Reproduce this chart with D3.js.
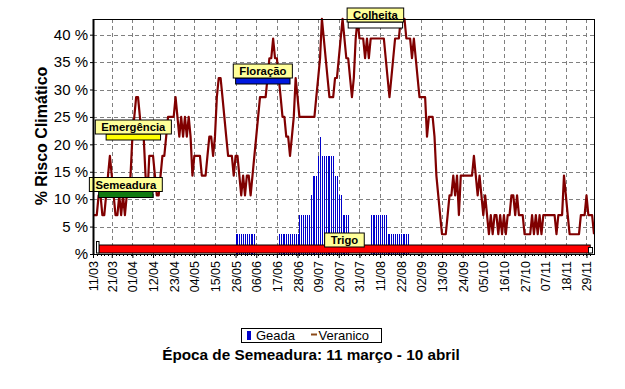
<!DOCTYPE html>
<html>
<head>
<meta charset="utf-8">
<script src="https://cdn.jsdelivr.net/npm/d3@7"></script>
<style>
  body { margin: 0; background: #fff; }
  svg { display: block; font-family: "Liberation Sans", Arial, sans-serif; }
</style>
</head>
<body>
<svg id="chart" width="625" height="389"></svg>
<script>
// datas dos rotulos do eixo x (dia/mes)
var rotulosX = ["11/03","21/03","01/04","12/04","23/04","04/05","15/05","26/05","06/06","17/06","28/06","09/07",
  "20/07","31/07","11/08","22/08","02/09","13/09","24/09","05/10","16/10","27/10","07/11","18/11","29/11"];
var rotulosY = [0, 5, 10, 15, 20, 25, 30, 35, 40];
var inicioSerie = "11/03";
var fimEixo = "03/12";
var yMax = 42.86;

// % risco de veranico, um valor por dia a partir de 11/03
var veranico = [
  7.1,7.1,7.1,10.7,10.7,7.1,7.1,10.7,14.3,17.9,14.3,
  10.7,7.1,7.1,10.7,7.1,10.7,7.1,10.7,10.7,14.3,21.4,
  25,28.6,28.6,25,21.4,21.4,14.3,10.7,17.9,17.9,17.9,
  14.3,10.7,10.7,14.3,17.9,17.9,21.4,25,25,25,25,
  28.6,25,21.4,25,21.4,25,21.4,25,21.4,14.3,17.9,
  17.9,17.9,17.9,14.3,14.3,14.3,17.9,21.4,21.4,17.9,21.4,
  28.6,32.1,32.1,28.6,25,21.4,17.9,17.9,17.9,14.3,17.9,
  17.9,14.3,10.7,14.3,10.7,14.3,14.3,10.7,14.3,17.9,21.4,
  25,28.6,28.6,28.6,28.6,32.1,35.7,35.7,39.3,35.7,35.7,
  32.1,28.6,25,25,21.4,21.4,17.9,21.4,25,32.1,28.6,
  25,25,25,25,25,25,25,25,25,28.6,32.1,
  35.7,42.9,39.3,35.7,32.1,28.6,28.6,28.6,32.1,32.1,35.7,
  39.3,42.9,39.3,35.7,35.7,32.1,28.6,32.1,39.3,42.9,39.3,
  39.3,39.3,35.7,39.3,35.7,39.3,39.3,39.3,39.3,39.3,39.3,
  39.3,39.3,35.7,32.1,28.6,32.1,35.7,39.3,39.3,39.3,42.9,
  42.9,42.9,39.3,39.3,39.3,35.7,39.3,35.7,32.1,28.6,28.6,
  28.6,28.6,21.4,25,25,25,21.4,14.3,10.7,7.1,3.6,
  3.6,3.6,7.1,10.7,10.7,14.3,10.7,14.3,7.1,14.3,14.3,
  14.3,14.3,14.3,14.3,14.3,17.9,14.3,10.7,14.3,10.7,7.1,
  10.7,7.1,3.6,7.1,3.6,7.1,7.1,3.6,7.1,3.6,7.1,
  3.6,7.1,7.1,10.7,10.7,7.1,10.7,7.1,7.1,7.1,3.6,
  3.6,3.6,3.6,7.1,3.6,7.1,3.6,7.1,3.6,7.1,7.1,
  7.1,7.1,7.1,7.1,7.1,3.6,7.1,7.1,7.1,14.3,10.7,
  7.1,3.6,3.6,3.6,3.6,3.6,3.6,7.1,7.1,7.1,10.7,
  7.1,7.1,7.1,3.6
];

// % risco de geada, um valor por dia a partir de 11/03
var geada = [
  0,0,0,0,0,0,0,0,0,0,0, 0,0,0,0,0,0,0,0,0,0,0,
  0,0,0,0,0,0,0,0,0,0,0, 0,0,0,0,0,0,0,0,0,0,0,
  0,0,0,0,0,0,0,0,0,0,0, 0,0,0,0,0,0,0,0,0,0,0,
  0,0,0,0,0,0,0,0,0,0,3.6,
  3.6,3.6,3.6,3.6,3.6,3.6,3.6,3.6,3.6,3.6,0,
  0,0,0,0,0,0,0,0,0,0,0,
  3.6,3.6,3.6,3.6,3.6,3.6,3.6,3.6,3.6,3.6,3.6,
  7.1,7.1,7.1,7.1,7.1,7.1,10.7,14.3,14.3,14.3,17.9,
  21.4,17.9,17.9,17.9,17.9,17.9,17.9,17.9,14.3,14.3,10.7,
  10.7,7.1,7.1,7.1,7.1,0,0,0,0,0,0,
  0,0,0,0,0,7.1,7.1,7.1,7.1,7.1,7.1,
  7.1,7.1,7.1,3.6,3.6,3.6,3.6,3.6,3.6,3.6,3.6,
  3.6,3.6,3.6,3.6,0,0,0,0,0,0,0,
  0,0,0,0,0,0,0,0,0,0,0, 0,0,0,0,0,0,0,0,0,0,0,
  0,0,0,0,0,0,0,0,0,0,0, 0,0,0,0,0,0,0,0,0,0,0,
  0,0,0,0,0,0,0,0,0,0,0, 0,0,0,0,0,0,0,0,0,0,0,
  0,0,0,0,0,0,0,0,0,0
];

// fases da cultura
var fases = ["Semeadura", "Emergência", "Floração", "Colheita", "Trigo"];
var faseInicio = ["14/03", "18/03", "26/05", "25/07", "14/03"];
var faseFim = ["12/04", "16/04", "24/06", "23/08", "01/12"];

// aparencia das faixas (topo e base em pixels, cor)
var faixaEstilo = {
  "Semeadura": { y0: 191.5, y1: 197.5, cor: "#107a10" },
  "Emergência": { y0: 134, y1: 140, cor: "#ffff00" },
  "Floração": { y0: 78, y1: 84, cor: "#0018e0" },
  "Colheita": { y0: 22, y1: 28, cor: "#ffffff" },
  "Trigo": { y0: 245, y1: 253, cor: "#ff0000", rotuloY: 247 }
};

var parseDia = d3.utcParse("%d/%m/%Y");
function dataDe(s) { return parseDia(s + "/2001"); }
var dia0 = dataDe(inicioSerie);

var margem = { left: 93, right: 594, top: 19, bottom: 254 };
var x = d3.scaleUtc().domain([dia0, dataDe(fimEixo)]).range([margem.left, margem.right]);
var y = d3.scaleLinear().domain([0, yMax]).range([margem.bottom, margem.top]);
function xDia(i) { return x(d3.utcDay.offset(dia0, i)); }

var svg = d3.select("#chart");
svg.append("rect").attr("width", 625).attr("height", 389).attr("fill", "#fff");

// grade tracejada
var grade = svg.append("g").attr("stroke", "#808080").attr("stroke-dasharray", "4,3")
  .attr("shape-rendering", "crispEdges");
grade.selectAll("line.h").data(rotulosY.filter(function(v) { return v > 0; })).enter().append("line")
  .attr("x1", margem.left).attr("x2", margem.right)
  .attr("y1", function(d) { return Math.round(y(d)) + 0.5; })
  .attr("y2", function(d) { return Math.round(y(d)) + 0.5; });
grade.selectAll("line.v").data(rotulosX.slice(1)).enter().append("line")
  .attr("x1", function(d) { return Math.round(x(dataDe(d))) + 0.5; })
  .attr("x2", function(d) { return Math.round(x(dataDe(d))) + 0.5; })
  .attr("y1", margem.top).attr("y2", margem.bottom);

// barras de geada
svg.append("g").attr("fill", "#0000cc").attr("shape-rendering", "crispEdges")
  .selectAll("rect").data(geada.map(function(v, i) { return { v: v, i: i }; }).filter(function(d) { return d.v > 0; }))
  .enter().append("rect")
  .attr("x", function(d) { return Math.round(xDia(d.i)); })
  .attr("width", 1)
  .attr("y", function(d) { return Math.round(y(d.v)); })
  .attr("height", function(d) { return Math.round(y(0)) - Math.round(y(d.v)); });

// linha de veranico
var linha = d3.line()
  .x(function(d, i) { return xDia(i); })
  .y(function(d) { return y(d); });
svg.append("path").datum(veranico)
  .attr("d", linha)
  .attr("fill", "none")
  .attr("stroke", "#800000")
  .attr("stroke-width", 2.2)
  .attr("stroke-linejoin", "round");

// faixas das fases
var gf = svg.append("g");
fases.forEach(function(nome, k) {
  var est = faixaEstilo[nome];
  var xa = x(dataDe(faseInicio[k])), xb = x(dataDe(faseFim[k]));
  gf.append("rect")
    .attr("x", xa).attr("y", est.y0)
    .attr("width", xb - xa).attr("height", est.y1 - est.y0)
    .attr("fill", est.cor).attr("stroke", "#000").attr("stroke-width", 1);
  var cx = (xa + xb) / 2;
  var base = est.rotuloY || est.y0;
  var t = gf.append("text")
    .attr("x", cx).attr("y", base - 3)
    .attr("text-anchor", "middle")
    .attr("font-size", "11.3px").attr("font-weight", "bold")
    .text(nome);
  var w = t.node().getComputedTextLength() + 12;
  gf.insert("rect", function() { return t.node(); })
    .attr("x", cx - w / 2).attr("y", base - 14)
    .attr("width", w).attr("height", 14)
    .attr("fill", "#ffff99").attr("stroke", "#000").attr("stroke-width", 1);
});
// marcas brancas nas pontas da faixa do trigo
gf.append("rect").attr("x", 96.5).attr("y", 241.5).attr("width", 2.5).attr("height", 11.5)
  .attr("fill", "#fff").attr("stroke", "#000");
gf.append("rect").attr("x", 588.5).attr("y", 247.5).attr("width", 4).attr("height", 5.5)
  .attr("fill", "#fff").attr("stroke", "#000");

// eixos e moldura
svg.append("rect")
  .attr("x", margem.left + 0.5).attr("y", margem.top + 0.5)
  .attr("width", margem.right - margem.left).attr("height", margem.bottom - margem.top)
  .attr("fill", "none").attr("stroke", "#000").attr("shape-rendering", "crispEdges");
svg.append("line").attr("x1", margem.left + 0.5).attr("x2", margem.left + 0.5)
  .attr("y1", margem.top).attr("y2", margem.bottom + 1)
  .attr("stroke", "#000").attr("stroke-width", 2);

var eixoY = d3.axisLeft(y).tickValues(rotulosY).tickSize(3).tickPadding(2)
  .tickFormat(function(d) { return d === 0 ? "%" : d + " %"; });
svg.append("g").attr("transform", "translate(" + margem.left + ",0)").call(eixoY)
  .call(function(g) { g.select(".domain").remove(); })
  .selectAll("text").attr("font-size", "15px").attr("font-family", "Liberation Sans, Arial, sans-serif");

var menores = d3.utcDay.every(2).range(dia0, dataDe(fimEixo));
svg.append("g").attr("stroke", "#000").attr("shape-rendering", "crispEdges")
  .selectAll("line").data(menores).enter().append("line")
  .attr("x1", function(d) { return Math.round(x(d)) + 0.5; })
  .attr("x2", function(d) { return Math.round(x(d)) + 0.5; })
  .attr("y1", margem.bottom).attr("y2", margem.bottom + 2);

var eixoX = d3.axisBottom(x).tickValues(rotulosX.map(dataDe)).tickSize(4)
  .tickFormat(function(d, i) { return rotulosX[i]; });
var gx = svg.append("g").attr("transform", "translate(0," + margem.bottom + ")").call(eixoX);
gx.select(".domain").remove();
gx.selectAll("text")
  .attr("font-size", "12.5px").attr("font-family", "Liberation Sans, Arial, sans-serif")
  .attr("text-anchor", "end")
  .attr("transform", "translate(4.5,7) rotate(-90)")
  .attr("x", 0).attr("y", 0).attr("dy", null);

// titulo do eixo y
svg.append("text")
  .attr("transform", "translate(47,136) rotate(-90)")
  .attr("text-anchor", "middle").attr("font-size", "16px").attr("font-weight", "bold")
  .text("% Risco Climático");

// legenda
var leg = svg.append("g");
leg.append("rect").attr("x", 241.5).attr("y", 328.5).attr("width", 140).attr("height", 14)
  .attr("fill", "#fff").attr("stroke", "#000");
leg.append("rect").attr("x", 247).attr("y", 331).attr("width", 4).attr("height", 9).attr("fill", "#0000cc");
leg.append("text").attr("x", 256).attr("y", 340).attr("font-size", "13px").text("Geada");
leg.append("line").attr("x1", 311).attr("x2", 317).attr("y1", 334.5).attr("y2", 334.5)
  .attr("stroke", "#8b4a1a").attr("stroke-width", 2);
leg.append("text").attr("x", 318.5).attr("y", 340).attr("font-size", "13px").text("Veranico");

// titulo
svg.append("text")
  .attr("x", 311).attr("y", 360)
  .attr("text-anchor", "middle").attr("font-size", "15.3px").attr("font-weight", "bold")
  .text("Época de Semeadura: 11 março - 10 abril");
</script>
</body>
</html>
